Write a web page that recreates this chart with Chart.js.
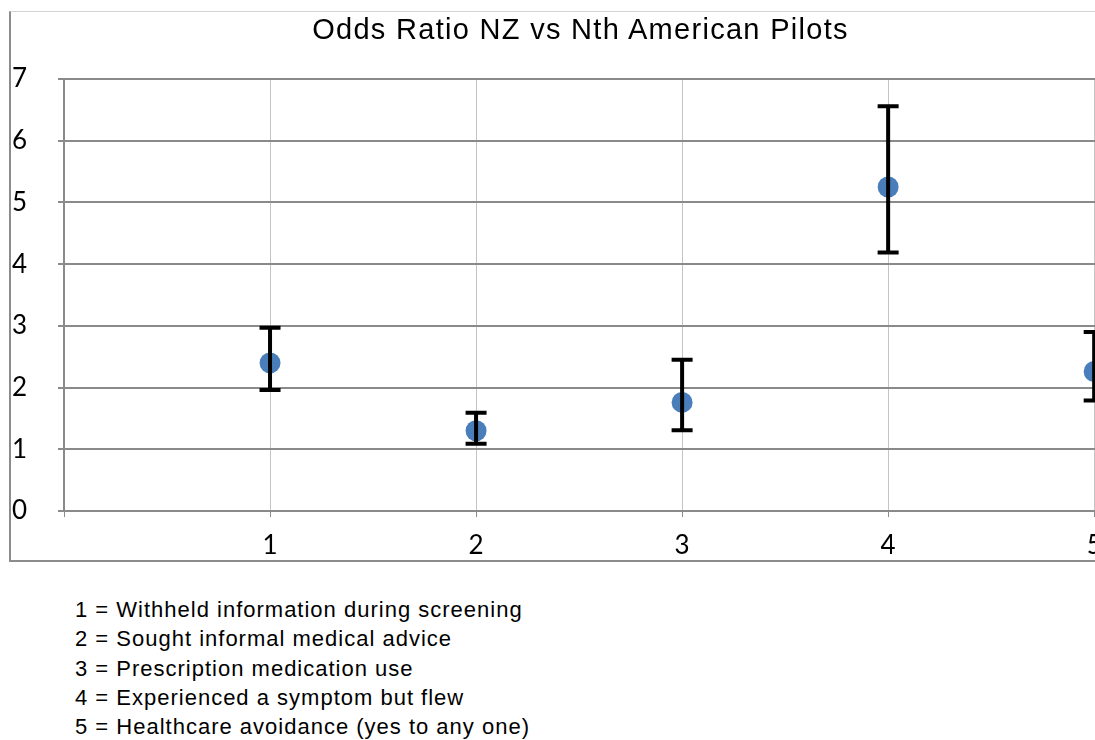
<!DOCTYPE html>
<html>
<head>
<meta charset="utf-8">
<script src="https://cdn.jsdelivr.net/npm/chart.js@4/dist/chart.umd.min.js"></script>
<style>
  html, body { margin: 0; padding: 0; background: #fff; overflow: hidden; }
  body { width: 1095px; height: 740px; position: relative; }
  #frame {
    position: absolute; left: 9px; top: 11px;
    width: 1139px; height: 548px;
    border-left: 2px solid #8c8c8c;
    border-top: 1px solid #d4d4d4;
    border-bottom: 2px solid #8c8c8c;
  }
  #chart-title {
    position: absolute; left: 0; top: 0px; width: 1139px;
    text-align: center;
    font: 29px/34px "Liberation Sans", Arial, sans-serif;
    letter-spacing: 1.3px; color: #000;
  }
  #wrap { position: absolute; left: 0; top: 0; width: 1139px; height: 548px; }
  #key {
    position: absolute; left: 75px; top: 595px;
    font: 22px/29.3px "Liberation Sans", Arial, sans-serif;
    letter-spacing: 1px; color: #000;
  }
</style>
</head>
<body>
<div id="frame">
  <div id="wrap"><canvas id="odds-chart"></canvas></div>
  <div id="chart-title"></div>
</div>
<div id="key"></div>

<script>
// Odds ratios (NZ vs North American pilots) with 95% CI.
const TITLE = "Odds Ratio NZ vs Nth American Pilots";
const categories = [1, 2, 3, 4, 5];
const categoryNames = [
  "Withheld information during screening",
  "Sought informal medical advice",
  "Prescription medication use",
  "Experienced a symptom but flew",
  "Healthcare avoidance (yes to any one)",
];
const oddsRatio = [2.40, 1.30, 1.76, 5.25, 2.26];
const ciLower   = [1.96, 1.09, 1.31, 4.19, 1.79];
const ciUpper   = [2.97, 1.59, 2.45, 6.56, 2.90];
const yTicks = [0, 1, 2, 3, 4, 5, 6, 7];

const GRID = "#8a8a8a";
const TICK_FONT = { family: "Lato, 'Open Sans', sans-serif", size: 26 };

document.getElementById("chart-title").textContent = TITLE;
document.getElementById("key").innerHTML = categories
  .map((c, i) => `<div>${c} = ${categoryNames[i]}</div>`).join("");

// whiskers with caps, drawn on top of the points
const errorBars = {
  id: "errorBars",
  afterDatasetsDraw(chart) {
    const { ctx, scales: { x, y } } = chart;
    const cap = 10.5;
    ctx.save();
    ctx.strokeStyle = "#000";
    ctx.lineWidth = 4;
    ctx.lineCap = "butt";
    categories.forEach((c, i) => {
      const px = x.getPixelForValue(c);
      const hi = y.getPixelForValue(ciUpper[i]);
      const lo = y.getPixelForValue(ciLower[i]);
      ctx.beginPath();
      ctx.moveTo(px, hi); ctx.lineTo(px, lo);
      ctx.moveTo(px - cap, hi); ctx.lineTo(px + cap, hi);
      ctx.moveTo(px - cap, lo); ctx.lineTo(px + cap, lo);
      ctx.stroke();
    });
    ctx.restore();
  },
};

new Chart(document.getElementById("odds-chart"), {
  type: "scatter",
  data: {
    datasets: [{
      label: "Odds ratio",
      data: categories.map((c, i) => ({ x: c, y: oddsRatio[i] })),
      backgroundColor: "#4a7ebb",
      borderWidth: 0,
      pointRadius: 10.5,
      pointHoverRadius: 10.5,
      clip: false,
    }],
  },
  options: {
    responsive: true,
    maintainAspectRatio: false,
    animation: false,
    layout: { padding: { left: 1, top: 67, right: 0, bottom: 0 } },
    plugins: {
      legend: { display: false },
      title: { display: false },
      tooltip: { enabled: false },
    },
    scales: {
      x: {
        type: "linear",
        min: 0,
        max: 5.22,
        afterBuildTicks: (s) => { s.ticks = [0].concat(categories).map(v => ({ value: v })); },
        afterFit: (s) => { s.height = 49; },
        ticks: {
          color: "#000",
          font: TICK_FONT,
          padding: 13,
          maxRotation: 0,
          callback: (v) => (v === 0 ? "" : String(v)),
        },
        grid: { color: "#c4c4c4", lineWidth: 1, tickColor: GRID, tickLength: 6 },
        border: { color: GRID, width: 2 },
      },
      y: {
        min: 0,
        max: 7,
        afterBuildTicks: (s) => { s.ticks = yTicks.map(v => ({ value: v })); },
        afterFit: (s) => { s.width = 52; },
        ticks: {
          color: "#000",
          font: TICK_FONT,
          crossAlign: "far",
          padding: 4,
        },
        grid: { color: GRID, lineWidth: 2, tickLength: 6 },
        border: { color: GRID, width: 2 },
      },
    },
  },
  plugins: [errorBars],
});
</script>
</body>
</html>
